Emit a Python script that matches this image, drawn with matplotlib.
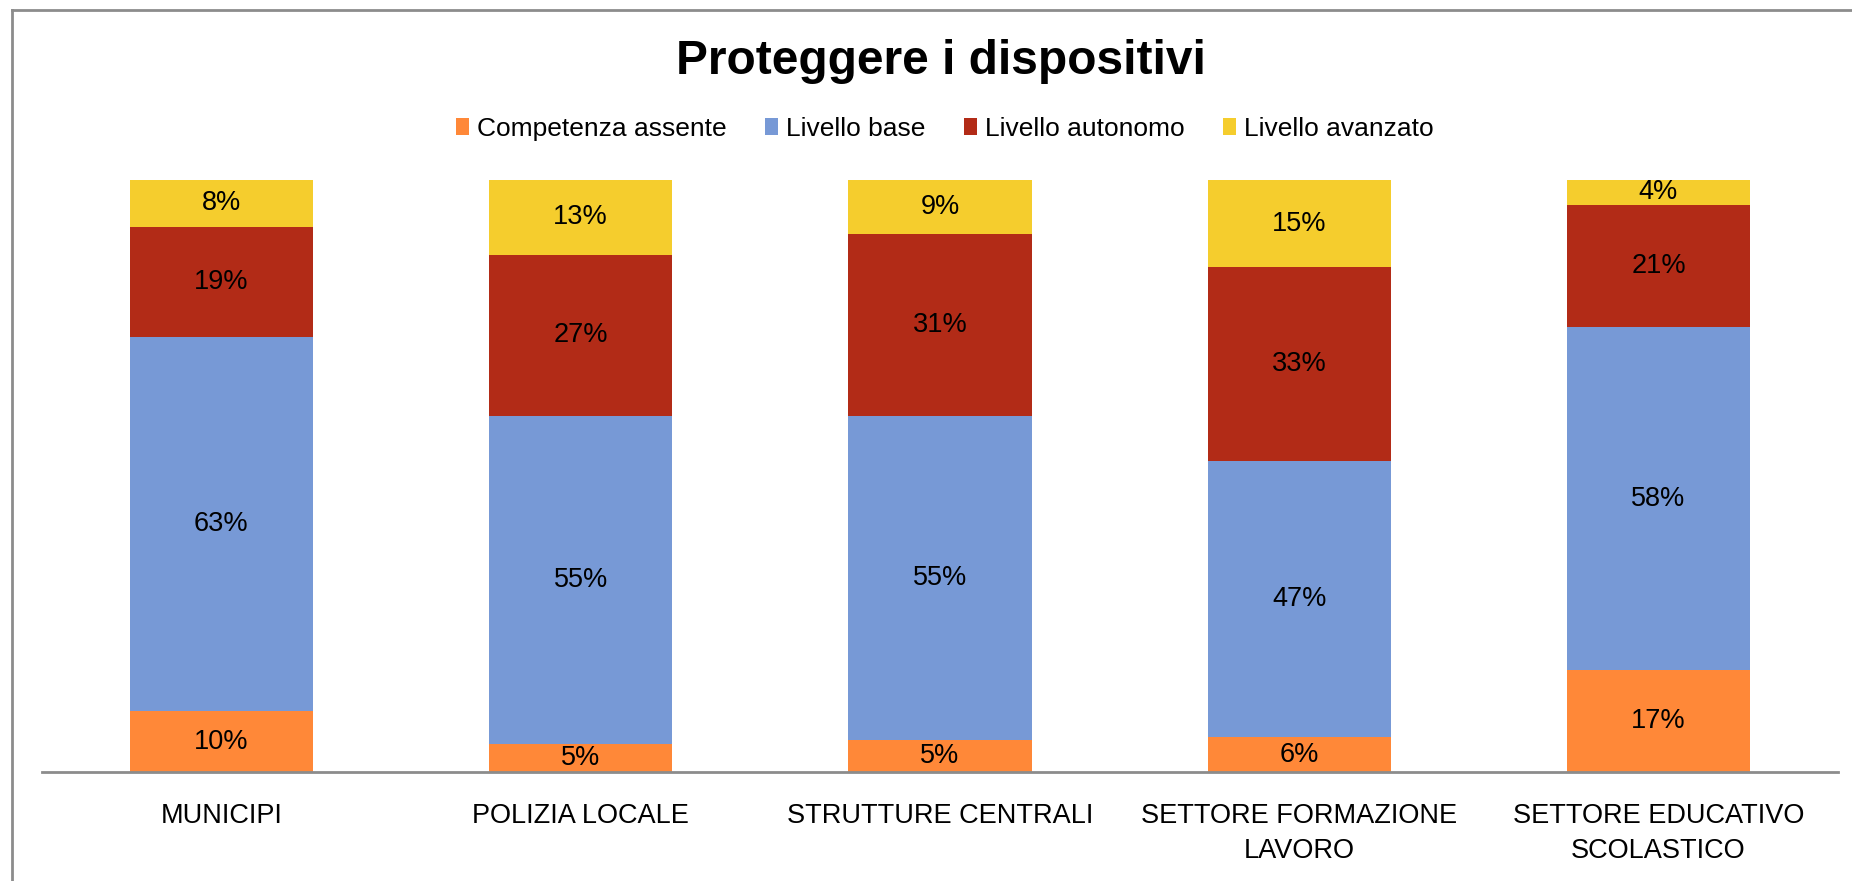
import matplotlib
matplotlib.use("Agg")
import matplotlib.pyplot as plt
from matplotlib.lines import Line2D
from matplotlib.patches import Patch
import numpy as np

plt.rcParams['font.family'] = ['Liberation Sans', 'DejaVu Sans']

# data (percentages)
categories = ["MUNICIPI", "POLIZIA LOCALE", "STRUTTURE CENTRALI",
              "SETTORE FORMAZIONE\nLAVORO", "SETTORE EDUCATIVO\nSCOLASTICO"]
series_names = ["Competenza assente", "Livello base", "Livello autonomo", "Livello avanzato"]
assente = [10.3, 4.8, 5.4, 5.9, 17.2]
base = [63.2, 55.4, 54.8, 46.7, 58.0]
autonomo = [18.6, 27.2, 30.7, 32.7, 20.6]
avanzato = [7.9, 12.6, 9.1, 14.7, 4.2]
colors = ["#FF8838", "#7799D6", "#B22B17", "#F5CD2D"]

fig = plt.figure(figsize=(18.52, 8.81), dpi=100)
ax = fig.add_axes([0.0225, 0.1237, 0.9700, 0.6720])

x = np.arange(len(categories))
bottom = np.zeros(len(categories))
for vals, col in zip([assente, base, autonomo, avanzato], colors):
    vals = np.array(vals)
    ax.bar(x, vals, 0.51, bottom=bottom, color=col, linewidth=0)
    for xi, b, v in zip(x, bottom, vals):
        ax.text(xi, b + v / 2, "%.0f%%" % v, ha="center", va="center",
                fontsize=19.5, color="black")
    bottom += vals

ax.set_xlim(-0.5, 4.5)
ax.set_ylim(0, 100)
ax.set_yticks([])
ax.set_xticks(x)
ax.set_xticklabels(categories, fontsize=19.5, linespacing=1.45)
ax.tick_params(axis="x", length=0, pad=22)
for s in ["top", "right", "left"]:
    ax.spines[s].set_visible(False)
ax.spines["bottom"].set_color("#8c8c8c")
ax.spines["bottom"].set_linewidth(2)

# title and legend
fig.text(0.508, 1 - 62 / 881, "Proteggere i dispositivi", ha="center", va="center",
         fontsize=34.5, fontweight="bold")
handles = [Patch(facecolor=c, edgecolor="none") for c in colors]
fig.legend(handles, series_names, loc="center", bbox_to_anchor=(0.510, 1 - 129 / 881),
           ncol=4, frameon=False, fontsize=19, handlelength=0.5, handleheight=0.6,
           handletextpad=0.3, columnspacing=1.45)

# chart border (top and left edges visible)
fig.add_artist(Line2D([12 / 1852, 12 / 1852], [0, 1 - 10 / 881], transform=fig.transFigure,
                      color="#8c8c8c", linewidth=2))
fig.add_artist(Line2D([12 / 1852, 1], [1 - 10 / 881, 1 - 10 / 881], transform=fig.transFigure,
                      color="#8c8c8c", linewidth=2))

fig.savefig("out.png", dpi=100)
